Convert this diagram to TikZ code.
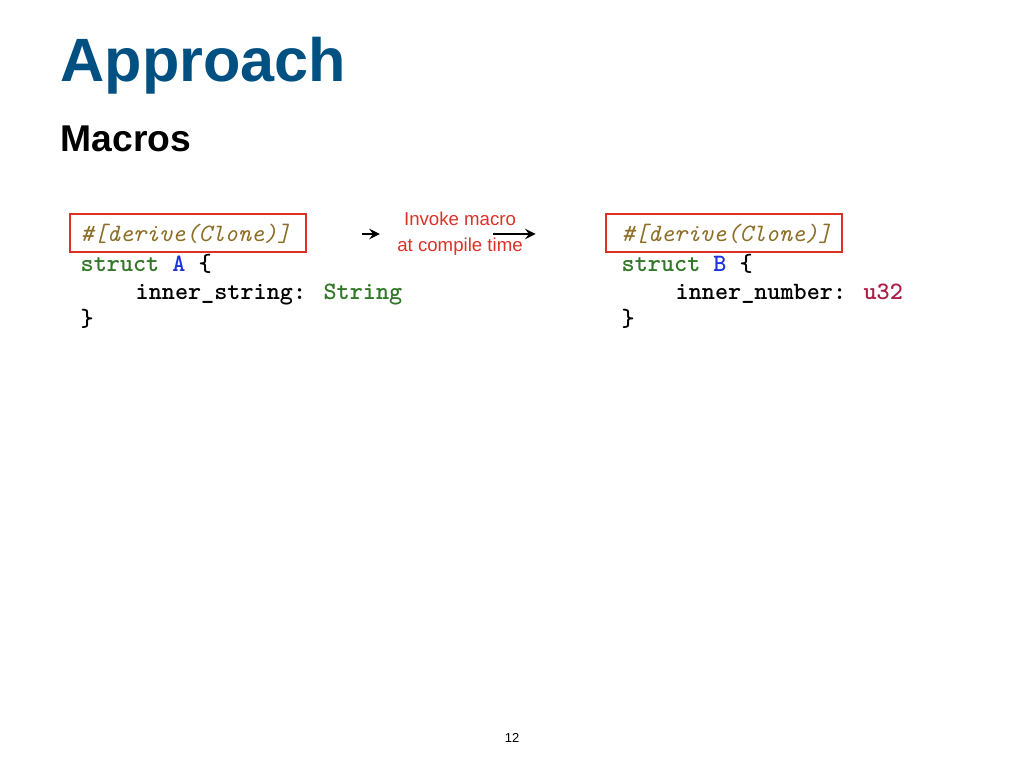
\documentclass[tikz,border=0pt]{standalone}
\usepackage{fontspec}
\setmainfont{Liberation Sans}
\usetikzlibrary{positioning}
\definecolor{titleblue}{RGB}{0,80,130}
\definecolor{attrcol}{RGB}{140,110,40}
\definecolor{kwgreen}{RGB}{50,120,40}
\definecolor{namblue}{RGB}{30,50,220}
\definecolor{u32col}{RGB}{170,30,70}
\definecolor{boxred}{RGB}{220,50,40}
\tikzset{
  code/.style={anchor=base west, inner sep=0pt, font=\fontsize{7.1}{8}\selectfont\ttfamily\bfseries},
  attrbox/.style={draw=boxred, line width=0.4pt},
  arrow/.style={->, >=stealth, line width=0.35pt}
}
\newcommand{\attr}{\textcolor{attrcol}{\itshape\mdseries\#[derive(Clone)]}}
\begin{document}
\begin{tikzpicture}[x=0.01cm, y=-0.01cm]
  \useasboundingbox (0,0) rectangle (1024,768);
  \node[anchor=base west, inner sep=0pt, text=titleblue, font=\fontsize{17.4}{20}\selectfont\bfseries] (title) at (60,82) {Approach};
  \node[anchor=base west, inner sep=0pt, font=\fontsize{10.6}{12}\selectfont\bfseries] (sub) at (60,152) {Macros};

  % left struct
  \node[code] (attrA) at (80,242) {\attr};
  \node[code] (structA) at (80,272) {\textcolor{kwgreen}{struct} \textcolor{namblue}{A} \{};
  \node[code] (fieldA) at (135,300) {inner\_string: \textcolor{kwgreen}{String}};
  \node[code] (closeA) at (80,327) {\}};
  \draw[attrbox] (70,214) rectangle (306,252);
  \coordinate (boxA) at (306,234);

  % right struct
  \node[code] (attrB) at (621,242) {\attr};
  \node[code] (structB) at (621,272) {\textcolor{kwgreen}{struct} \textcolor{namblue}{B} \{};
  \node[code] (fieldB) at (675,300) {inner\_number: \textcolor{u32col}{u32}};
  \node[code] (closeB) at (621,327) {\}};
  \draw[attrbox] (606,214) rectangle (842,252);
  \coordinate (boxB) at (606,234);

  \node[align=center, inner sep=0pt, text=boxred, font=\fontsize{5.3}{7.3}\selectfont] (invoke) at (460,234) {Invoke macro\\at compile time};
  \draw[arrow] ([xshift=-28\pgflinewidth]invoke.west |- boxA) coordinate (la) -- ([xshift=21]boxA);
  \draw[arrow] ([xshift=-32]boxB) -- ([xshift=-20]boxB);

  \node[inner sep=0pt, font=\fontsize{3.7}{4}\selectfont] (page) at (512,738) {12};
\end{tikzpicture}
\end{document}
